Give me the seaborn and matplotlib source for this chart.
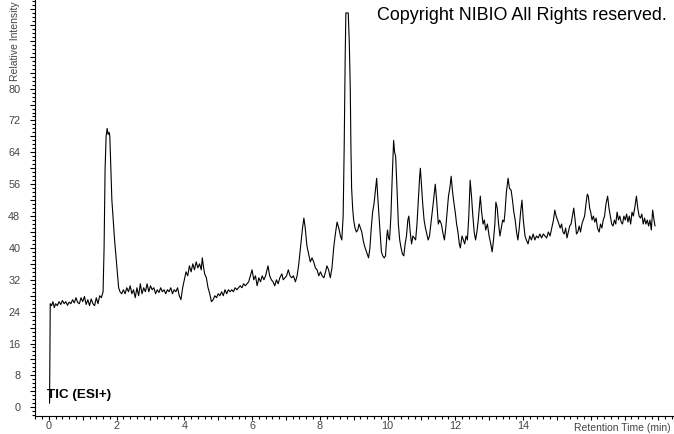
import numpy as np
import pandas as pd
import seaborn as sns
import matplotlib
matplotlib.use("Agg")
import matplotlib.pyplot as plt
from matplotlib.ticker import MultipleLocator, FuncFormatter

# retention time (min) and relative intensity
rt = [0.02, 0.04, 0.08, 0.12, 0.16, 0.2, 0.25, 0.3, 0.35, 0.4, 0.45, 0.5, 0.55, 0.6, 0.65, 0.7,
      0.75, 0.8, 0.85, 0.9, 0.95, 1.0, 1.05, 1.1, 1.15, 1.2, 1.25, 1.3, 1.35, 1.4, 1.45, 1.5,
      1.55, 1.6, 1.63, 1.66, 1.69, 1.72, 1.75, 1.78, 1.8, 1.83, 1.86, 1.9, 1.94, 1.98, 2.02,
      2.06, 2.1, 2.15, 2.2, 2.25, 2.3, 2.35, 2.4, 2.45, 2.5, 2.55, 2.6, 2.65, 2.7, 2.75, 2.8,
      2.85, 2.9, 2.95, 3.0, 3.05, 3.1, 3.15, 3.2, 3.25, 3.3, 3.35, 3.4, 3.45, 3.5, 3.55, 3.6,
      3.65, 3.7, 3.75, 3.8, 3.85, 3.9, 3.95, 4.0, 4.05, 4.1, 4.15, 4.2, 4.25, 4.3, 4.35, 4.4,
      4.45, 4.5, 4.53, 4.57, 4.6, 4.65, 4.7, 4.75, 4.8, 4.85, 4.9, 4.95, 5.0, 5.05, 5.1, 5.15,
      5.2, 5.25, 5.3, 5.35, 5.4, 5.45, 5.5, 5.55, 5.6, 5.65, 5.7, 5.75, 5.8, 5.85, 5.9, 5.95,
      6.0, 6.05, 6.1, 6.15, 6.2, 6.25, 6.3, 6.35, 6.4, 6.47, 6.52, 6.57, 6.62, 6.67, 6.72, 6.77,
      6.82, 6.88, 6.92, 6.97, 7.02, 7.07, 7.12, 7.17, 7.22, 7.28, 7.33, 7.38, 7.44, 7.49, 7.53,
      7.57, 7.62, 7.67, 7.72, 7.77, 7.82, 7.87, 7.92, 7.97, 8.02, 8.07, 8.12, 8.17, 8.21, 8.26,
      8.31, 8.36, 8.41, 8.46, 8.51, 8.56, 8.61, 8.65, 8.69, 8.72, 8.75, 8.77, 8.8, 8.84, 8.87,
      8.9, 8.92, 8.94, 8.97, 9.0, 9.04, 9.08, 9.12, 9.16, 9.2, 9.24, 9.28, 9.32, 9.36, 9.4,
      9.44, 9.48, 9.52, 9.56, 9.6, 9.65, 9.68, 9.71, 9.74, 9.78, 9.82, 9.86, 9.9, 9.94, 9.98,
      10.0, 10.03, 10.06, 10.1, 10.14, 10.18, 10.21, 10.24, 10.28, 10.32, 10.36, 10.4, 10.44,
      10.48, 10.52, 10.56, 10.6, 10.63, 10.67, 10.71, 10.75, 10.79, 10.83, 10.87, 10.91, 10.95,
      10.97, 11.0, 11.04, 11.08, 11.12, 11.16, 11.2, 11.24, 11.28, 11.32, 11.36, 11.41, 11.45,
      11.5, 11.54, 11.59, 11.63, 11.68, 11.72, 11.76, 11.8, 11.84, 11.88, 11.91, 11.95, 12.0,
      12.04, 12.08, 12.12, 12.15, 12.2, 12.24, 12.28, 12.32, 12.36, 12.4, 12.44, 12.48, 12.52,
      12.56, 12.6, 12.64, 12.68, 12.74, 12.78, 12.82, 12.86, 12.9, 12.95, 13.0, 13.05, 13.09,
      13.13, 13.17, 13.2, 13.24, 13.28, 13.32, 13.36, 13.4, 13.44, 13.47, 13.51, 13.56, 13.6,
      13.65, 13.69, 13.73, 13.77, 13.81, 13.85, 13.89, 13.93, 13.97, 14.01, 14.06, 14.1, 14.15,
      14.2, 14.25, 14.3, 14.35, 14.4, 14.45, 14.5, 14.55, 14.6, 14.65, 14.7, 14.75, 14.8, 14.85,
      14.9, 14.94, 14.98, 15.02, 15.06, 15.1, 15.14, 15.18, 15.22, 15.26, 15.3, 15.34, 15.38,
      15.42, 15.46, 15.5, 15.54, 15.58, 15.62, 15.66, 15.7, 15.74, 15.78, 15.82, 15.86, 15.9,
      15.93, 15.97, 16.0, 16.04, 16.08, 16.12, 16.16, 16.2, 16.25, 16.29, 16.33, 16.37, 16.41,
      16.45, 16.5, 16.54, 16.58, 16.62, 16.66, 16.7, 16.74, 16.78, 16.82, 16.86, 16.9, 16.94,
      16.98, 17.02, 17.06, 17.1, 17.14, 17.18, 17.22, 17.26, 17.3, 17.35, 17.39, 17.43, 17.47,
      17.51, 17.55, 17.59, 17.63, 17.67, 17.71, 17.75, 17.79, 17.83, 17.87, 17.9]

intensity = [1, 26, 25.5, 26.5, 25, 26, 25.5, 26.5, 25.8, 26.8, 26, 26.5, 25.6, 26.4, 26, 27,
             26.2, 27.5, 26.3, 26, 27.5, 26.5, 27.8, 25.8, 27, 25.5, 27.2, 26, 25.5, 27.5, 26, 28,
             27.5, 29, 40, 60, 68, 70, 68.5, 69, 68, 60, 52, 47, 42, 38, 34,
             30, 29, 28.5, 29.5, 28.5, 30, 29, 30.5, 28.5, 29.5, 27.5, 30, 28, 31, 28.5, 30,
             29, 31, 29, 30.5, 29.5, 30, 28.5, 29.5, 28.8, 30, 29, 29.5, 28.5, 29.5, 29, 30,
             28.5, 29.5, 29, 30, 28, 27, 30, 32, 34, 33, 35.5, 34, 36, 34.5, 36.5, 35,
             36, 34.5, 37.5, 35, 33.5, 32.5, 30, 28.5, 26.5, 27, 28, 27.5, 28.5, 28, 29, 28,
             29.5, 28.5, 29.5, 29, 29.5, 29, 30, 29.5, 30, 30.5, 30, 31, 30.5, 31, 31.5, 33,
             34.5, 32, 33, 30.5, 32.5, 31.5, 33, 32, 33, 35.5, 33, 32, 31.5, 30.5, 32, 31,
             32.5, 33.5, 32, 32.5, 33, 34.5, 33, 32.5, 33, 31.5, 33, 36, 41, 45, 47.5,
             45, 40.5, 38.5, 36.5, 37.5, 36.5, 35, 34.5, 33, 34, 33, 32.5, 34, 35.5, 34.5,
             32.5, 35, 40, 43.5, 46.5, 45, 43, 42, 48, 65, 88, 99, 99, 99, 92,
             80, 65, 55, 50, 47, 45, 44, 44.5, 46, 45, 44, 42, 40.5, 39.5, 38.5,
             37.5, 40, 45, 49, 51, 55, 57.5, 53, 49, 44, 39, 38, 37.5, 38, 43,
             44.5, 42.5, 42, 48, 58, 67, 64, 63, 55, 46, 42, 40, 38.5,
             38, 41, 43, 47, 48, 44, 41, 43, 42.5, 42, 46, 52, 58,
             60, 56, 51, 47, 45, 43.5, 42, 43, 46, 49, 52, 56, 52,
             46, 47, 46, 44, 42, 45, 49, 53, 55, 58, 55, 52, 49,
             46, 44, 41, 40, 43, 42, 41, 43, 42, 48, 57, 53, 48,
             44, 42, 44, 47, 53, 49, 46, 47, 44.5, 46, 43, 41, 39,
             42, 46, 51.5, 50, 46, 43, 45, 47, 46.5, 49, 54, 57.5, 55,
             54.5, 52, 49, 47, 44, 42, 45, 49, 52, 47, 43, 42, 41,
             43, 42, 43.5, 42, 43, 42.5, 43.5, 42.5, 43.5, 43, 42.5, 44, 43, 45,
             47, 49.5, 48, 47, 46, 45, 46, 44, 43.5, 45, 42.5, 44, 45.5,
             46, 48, 50, 47, 43.5, 44, 45.5, 44, 46, 47, 48, 51, 53.5,
             53, 50, 49, 47, 48, 46.5, 47.5, 45, 44, 46, 45, 47, 48,
             51, 53, 50, 48, 46, 45.5, 47, 46, 49, 47, 48, 46.5, 46,
             48, 47, 48.5, 46.5, 48, 46, 49, 48, 50, 53, 50, 48, 47.5,
             48.5, 46, 47.5, 46, 47, 45.5, 47, 44.5, 49.5, 47, 45.5]

df = pd.DataFrame({"rt": rt, "intensity": intensity})

sns.set_style("ticks")
plt.rcParams["font.family"] = ["Liberation Sans", "DejaVu Sans"]

fig = plt.figure(figsize=(6.74, 4.34), dpi=100)
ax = fig.add_axes([35 / 674, 18 / 434, 1 - 35 / 674, 1 - 18 / 434])

sns.lineplot(data=df, x="rt", y="intensity", ax=ax, color="black",
             linewidth=0.8, estimator=None, sort=False)

ax.set_xlim(-0.41, 18.46)
ax.set_ylim(-2.2, 102.25)
sns.despine(ax=ax)
for s in ["left", "bottom"]:
    ax.spines[s].set_linewidth(0.8)
    ax.spines[s].set_color("black")

# ticks
ax.xaxis.set_major_locator(MultipleLocator(1))
ax.xaxis.set_minor_locator(MultipleLocator(0.2))
ax.yaxis.set_major_locator(MultipleLocator(4))
ax.yaxis.set_minor_locator(MultipleLocator(1))
ax.xaxis.set_major_formatter(FuncFormatter(lambda v, p: f"{int(round(v))}" if round(v) % 2 == 0 and 0 <= v <= 14 else ""))
ax.yaxis.set_major_formatter(FuncFormatter(lambda v, p: f"{int(round(v))}" if round(v) % 8 == 0 and 0 <= v <= 80 else ""))
ax.tick_params(axis="both", which="major", width=0.8, color="black",
               labelsize=7.8, labelcolor="#444444")
ax.tick_params(axis="both", which="minor", width=0.8, color="black")
ax.tick_params(axis="y", which="major", length=3.6, pad=7)
ax.tick_params(axis="y", which="minor", length=2.2)
ax.tick_params(axis="x", which="major", length=3.2, pad=0.6)
ax.tick_params(axis="x", which="minor", length=2)

ax.set_xlabel("")
ax.set_ylabel("")

# labels / annotations
fig.text(15 / 674, 1 - 1 / 434, "Relative Intensity", rotation=90, ha="center", va="top",
         fontsize=7.5, color="#444444")
fig.text(671 / 674, 1 - 428 / 434, "Retention Time (min)", ha="right", va="center",
         fontsize=7.5, color="#444444")
fig.text(667 / 674, 1 - 15 / 434, "Copyright NIBIO All Rights reserved.", ha="right", va="center",
         fontsize=12.9, color="black")
fig.text(47 / 674, 1 - 395 / 434, "TIC (ESI+)", ha="left", va="center",
         fontsize=9.7, fontweight="bold", color="black")

plt.savefig("out.png", dpi=100)
